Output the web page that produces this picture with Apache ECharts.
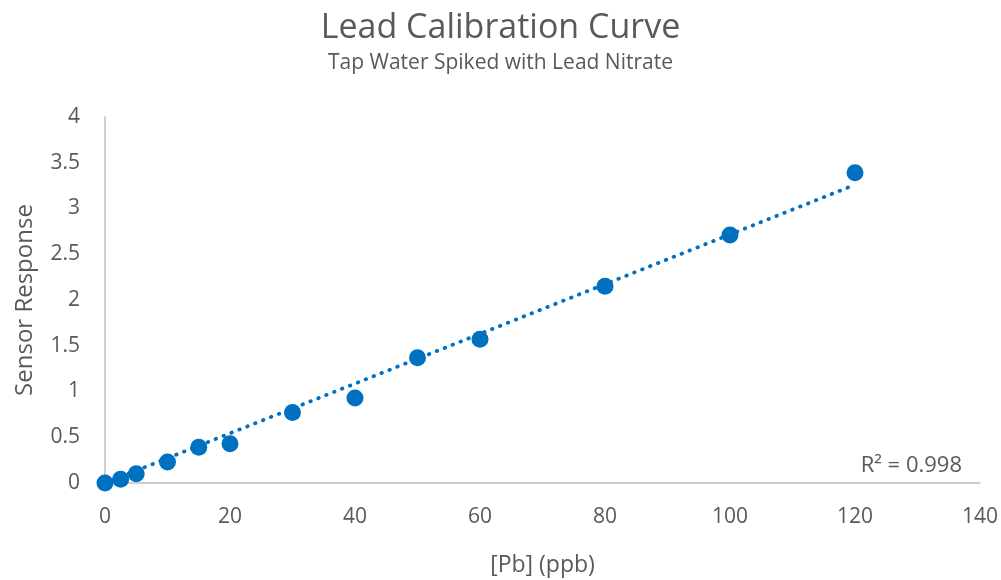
<!DOCTYPE html>
<html>
<head>
<meta charset="utf-8">
<script src="https://cdn.jsdelivr.net/npm/echarts@6/dist/echarts.min.js"></script>
<style>html,body{margin:0;padding:0;background:#fff}#c{width:1001px;height:580px}</style>
</head>
<body>
<div id="c"></div>
<script>
const pbConc = [0, 2.5, 5, 10, 15, 20, 30, 40, 50, 60, 80, 100, 120];
const sensorResp = [0, 0.04, 0.1, 0.23, 0.39, 0.43, 0.77, 0.93, 1.37, 1.57, 2.15, 2.71, 3.39];
const trendX = [0, 120];
const trendY = [0.0, 3.26];
const r2Label = 'R² = 0.998';

const font = '"Open Sans", "Noto Sans", sans-serif';
const grey = '#595959';
const chart = echarts.init(document.getElementById('c'), null, {renderer: 'canvas'});
chart.setOption({
  animation: false,
  title: {
    text: 'Lead Calibration Curve',
    subtext: 'Tap Water Spiked with Lead Nitrate',
    left: 'center', top: 6, itemGap: 8,
    textStyle: {fontFamily: font, fontSize: 34, fontWeight: 'normal', color: grey},
    subtextStyle: {fontFamily: font, fontSize: 21, color: grey}
  },
  grid: {left: 105, right: 21, top: 117, bottom: 97, containLabel: false, outerBoundsMode: 'none'},
  xAxis: {
    type: 'value', min: 0, max: 140, interval: 20,
    name: '[Pb] (ppb)', nameLocation: 'middle', nameGap: 71,
    nameTextStyle: {fontFamily: font, fontSize: 23, color: grey},
    axisLine: {lineStyle: {color: '#BFBFBF', width: 1.5}},
    axisTick: {show: false}, splitLine: {show: false},
    axisLabel: {fontFamily: font, fontSize: 21, color: grey, margin: 24}
  },
  yAxis: {
    type: 'value', min: 0, max: 4, interval: 0.5,
    name: 'Sensor Response', nameLocation: 'middle', nameGap: 68,
    nameTextStyle: {fontFamily: font, fontSize: 24, color: grey},
    axisLine: {show: true, lineStyle: {color: '#BFBFBF', width: 1.5}},
    axisTick: {show: false}, splitLine: {show: false},
    axisLabel: {fontFamily: font, fontSize: 21, color: grey, margin: 25}
  },
  series: [
    {
      type: 'line', data: trendX.map((x, i) => [x, trendY[i]]),
      showSymbol: false, silent: true, z: 1,
      lineStyle: {color: '#0070C0', width: 3.8, type: [0.5, 8], cap: 'round'}
    },
    {
      type: 'scatter', data: pbConc.map((x, i) => [x, sensorResp[i]]),
      symbolSize: 17, z: 3,
      itemStyle: {color: '#0070C0', opacity: 1}
    }
  ],
  graphic: [{
    type: 'text', right: 39, top: 455,
    style: {text: r2Label, fontFamily: font, fontSize: 22, fill: grey}
  }]
});
</script>
</body>
</html>
